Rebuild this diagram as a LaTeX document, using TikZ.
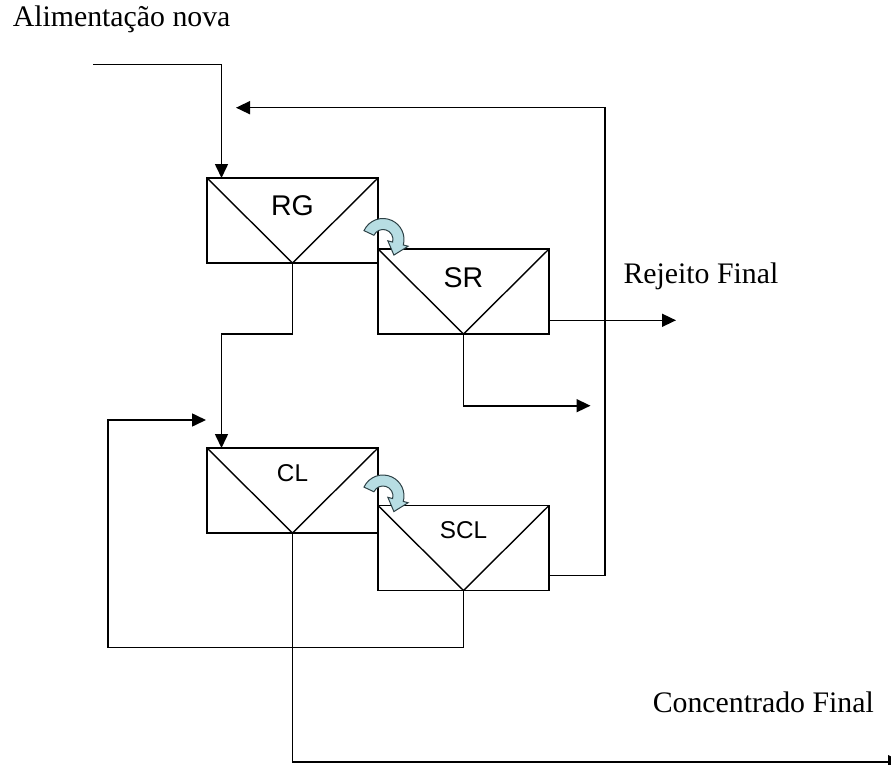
\documentclass[tikz,border=0pt]{standalone}
\usepackage{fontspec}
\setmainfont{Liberation Serif}
\newfontfamily\cellfont{Liberation Sans}
\usetikzlibrary{arrows.meta, positioning}

\tikzset{
    cell/.style={rectangle, draw, minimum width=171pt, minimum height=85pt, inner sep=0pt, outer sep=0pt},
    cellname/.style={font=\cellfont\fontsize{28.5}{34}\selectfont},
    smallname/.style={font=\cellfont\fontsize{24.3}{28}\selectfont},
    caption/.style={anchor=base west, inner sep=0pt, font=\fontsize{29.8}{34}\selectfont},
    swirl/.style={fill={rgb,255:red,183;green,221;blue,227}, draw={rgb,255:red,45;green,65;blue,70}, line width=1pt},
}

\begin{document}
\begin{tikzpicture}[x=1pt, y=-1pt, line width=1.6pt, >={Triangle[length=14pt,width=13pt]}]
    \useasboundingbox (0,0) rectangle (891,765);

    \node [cell] (rg) at (292.5,220.5) {};
    \node [cell, below right=28.5pt and 0pt of rg.east] (sr) {};
    \node [cell, below=185pt of rg] (cl) {};
    \node [cell, below right=15pt and 0pt of cl.east] (scl) {};

    \foreach \c in {rg, sr, cl, scl}
        \draw[line width=1.4pt] (\c.north west) -- (\c.south) -- (\c.north east);

    \node [cellname] (rgname) at ([yshift=15pt]rg) {RG};
    \node [cellname] (srname) at ([yshift=13.5pt]sr) {SR};
    \node [smallname] (clname) at ([yshift=17.8pt]cl) {CL};
    \node [smallname] (sclname) at ([yshift=18.3pt]scl) {SCL};

    \node [caption] (feedtxt) at (12,27) {Alimentação nova};
    \node [caption] (rejtxt) at (622.7,283) {Rejeito Final};
    \node [caption] (conctxt) at (652,712.7) {Concentrado Final};

    \coordinate (feed) at (93,64.5);
    \coordinate (rettop) at (605,107.7);
    \coordinate (ret) at (236,107.7);
    \coordinate (rej) at (676,320.3);
    \coordinate (srout) at (590.5,405.7);
    \coordinate (recyc) at (108,647.3);
    \coordinate (clin) at (206,420);
    \coordinate (conc) at (902,761.7);

    \draw[->] (feed) -| ([xshift=14.5pt]rg.north west);
    \draw[->] ([yshift=15pt]scl.south east) -| (rettop) -- (ret);
    \draw[->] (rg.south) -- ++(0,71) -| ([xshift=14.5pt]cl.north west);
    \draw[->] ([yshift=13.7pt]sr.south east) -- (rej);
    \draw[->] (sr.south) |- (srout);
    \draw[->] (scl.south) |- (recyc) |- (clin);
    \draw[->] (cl.south) |- (conc);

    \foreach \c in {sr, scl}
        \filldraw[swirl, shift={(\c.north west)}, shift={(5,-9.5)}, y=1pt]
            (155:21) arc[start angle=155, end angle=-15, radius=21] -- (-15:26) -- (-55:19)
            -- (-15:5) -- (-15:10) arc[start angle=-15, end angle=155, radius=10] -- cycle;
\end{tikzpicture}
\end{document}
